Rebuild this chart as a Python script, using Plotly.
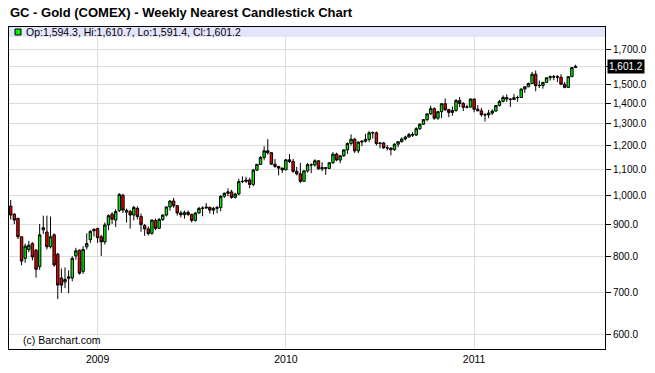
import numpy as np
import pandas as pd
import plotly.graph_objects as go

# ---------------- data ----------------
first_week = "2008-07-21"
opens = [961, 933, 919, 859, 794, 820, 838, 818, 770, 881, 874, 828, 865, 806, 739, 728, 742, 739, 801, 818,
         757, 828, 850, 878, 885, 859, 843, 897, 933, 913, 945, 1000, 940, 942, 930, 953, 925, 895, 884, 870,
         912, 886, 915, 930, 958, 979, 962, 937, 931, 939, 932, 912, 937, 953, 954, 957, 947, 953, 956, 996,
         1007, 1012, 992, 1004, 1051, 1052, 1057, 1040, 1096, 1119, 1148, 1176, 1168, 1120, 1111, 1104, 1097, 1138, 1131, 1091,
         1081, 1052, 1093, 1118, 1117, 1134, 1101, 1106, 1103, 1126, 1162, 1137, 1155, 1180, 1208, 1227, 1176, 1214, 1218, 1226,
         1257, 1256, 1208, 1210, 1189, 1188, 1181, 1205, 1216, 1228, 1237, 1248, 1246, 1275, 1296, 1318, 1346, 1372, 1325, 1357,
         1397, 1367, 1353, 1363, 1413, 1398, 1379, 1380, 1421, 1369, 1361, 1342, 1341, 1350, 1360, 1388, 1409, 1429, 1421, 1419,
         1428, 1429, 1474, 1486, 1504, 1556, 1492, 1493, 1510, 1536, 1542, 1542, 1539, 1500, 1483, 1542, 1594.3]
highs = [983, 936, 920, 860, 838, 846, 842, 822, 900, 928, 928, 925, 870, 810, 765, 768, 760, 800, 825, 820,
         830, 870, 880, 885, 888, 865, 905, 932, 940, 950, 1007, 1005, 952, 948, 962, 960, 935, 900, 892, 915,
         918, 920, 932, 960, 982, 990, 965, 945, 945, 946, 935, 940, 958, 960, 972, 958, 958, 962, 1000, 1010,
         1025, 1020, 1009, 1062, 1071, 1070, 1066, 1101, 1120, 1153, 1196, 1227, 1170, 1141, 1112, 1106, 1140, 1162, 1142, 1109,
         1125, 1094, 1125, 1123, 1140, 1136, 1128, 1107, 1128, 1170, 1168, 1158, 1182, 1212, 1249, 1233, 1217, 1222, 1251, 1264,
         1262, 1262, 1213, 1215, 1201, 1190, 1208, 1218, 1235, 1243, 1256, 1259, 1282, 1300, 1321, 1350, 1387, 1378, 1361, 1398,
         1424, 1371, 1382, 1421, 1432, 1405, 1392, 1424, 1423, 1390, 1376, 1350, 1366, 1368, 1390, 1416, 1440, 1445, 1425, 1448,
         1439, 1477, 1487, 1509, 1569, 1577, 1520, 1513, 1537, 1549, 1552, 1551, 1556, 1512, 1545, 1597, 1610.7]
lows = [915, 900, 852, 774, 781, 812, 788, 740, 761, 868, 820, 823, 770, 684, 700, 712, 699, 730, 790, 748,
        750, 820, 840, 860, 840, 801, 835, 880, 900, 890, 940, 937, 905, 885, 912, 915, 875, 862, 863, 865,
        880, 885, 910, 925, 945, 955, 928, 922, 918, 926, 905, 908, 935, 926, 952, 935, 932, 936, 943, 990,
        996, 987, 988, 1000, 1045, 1046, 1026, 1033, 1092, 1117, 1136, 1160, 1117, 1105, 1075, 1085, 1095, 1125, 1085, 1075,
        1045, 1051, 1086, 1084, 1110, 1097, 1091, 1077, 1100, 1120, 1132, 1124, 1150, 1163, 1200, 1167, 1166, 1196, 1212, 1215,
        1230, 1199, 1187, 1184, 1177, 1157, 1176, 1192, 1212, 1222, 1233, 1237, 1241, 1270, 1294, 1310, 1341, 1317, 1317, 1326,
        1360, 1330, 1337, 1357, 1380, 1360, 1373, 1378, 1354, 1360, 1333, 1309, 1325, 1340, 1357, 1383, 1404, 1406, 1381, 1415,
        1407, 1427, 1453, 1485, 1500, 1462, 1480, 1476, 1507, 1520, 1522, 1512, 1498, 1478, 1480, 1540, 1591.4]
closes = [930, 913, 859, 786, 830, 833, 798, 763, 865, 888, 828, 859, 775, 720, 720, 735, 738, 794, 816, 752,
          820, 838, 876, 883, 856, 843, 897, 928, 916, 942, 1003, 947, 946, 930, 956, 925, 898, 884, 869, 913,
          886, 915, 930, 958, 979, 962, 937, 931, 939, 932, 912, 937, 953, 954, 957, 947, 953, 956, 996, 1007,
          1012, 992, 1004, 1051, 1052, 1057, 1040, 1096, 1119, 1148, 1176, 1168, 1120, 1111, 1104, 1097, 1138, 1131, 1091, 1081,
          1052, 1093, 1118, 1117, 1134, 1101, 1106, 1103, 1126, 1162, 1137, 1155, 1180, 1208, 1227, 1176, 1214, 1218, 1226, 1256,
          1256, 1208, 1210, 1189, 1188, 1181, 1205, 1216, 1228, 1237, 1248, 1246, 1275, 1296, 1318, 1346, 1372, 1325, 1357, 1397,
          1367, 1353, 1363, 1413, 1398, 1379, 1380, 1421, 1369, 1361, 1342, 1341, 1350, 1360, 1388, 1409, 1429, 1421, 1419, 1428,
          1429, 1474, 1486, 1504, 1556, 1492, 1493, 1510, 1536, 1542, 1540, 1539, 1500, 1483, 1542, 1594, 1601.2]

dates = pd.date_range(first_week, periods=len(opens), freq="7D")

y_ticks = [600, 700, 800, 900, 1000, 1100, 1200, 1300, 1400, 1500, 1600, 1700]
y_tick_text = ["" if v == 1600 else f"{v:,.1f}" for v in y_ticks]
year_ticks = ["2009-01-05", "2010-01-04", "2011-01-03"]
year_labels = ["2009", "2010", "2011"]

title_text = "GC - Gold (COMEX) - Weekly Nearest Candlestick Chart"
last_o, last_h, last_l, last_c = opens[-1], highs[-1], lows[-1], closes[-1]
legend_text = f"Op:{last_o:,.1f}, Hi:{last_h:,.1f}, Lo:{last_l:,.1f}, Cl:{last_c:,.1f}"

FONT = "Liberation Sans, Arial, sans-serif"
GREEN = "#00f000"
RED = "#f00000"

fig = go.Figure()
fig.add_trace(go.Candlestick(
    x=dates, open=opens, high=highs, low=lows, close=closes,
    increasing=dict(fillcolor=GREEN, line=dict(color="black", width=1)),
    decreasing=dict(fillcolor=RED, line=dict(color="black", width=1)),
    whiskerwidth=0, showlegend=False, hoverinfo="skip",
))

W, H = 655, 373
ml, mr, mt, mb = 9, 50, 27, 24
ph = H - mt - mb
pw = W - ml - mr

fig.update_layout(
    width=W, height=H,
    margin=dict(l=ml, r=mr, t=mt, b=mb, pad=0, autoexpand=False),
    paper_bgcolor="white", plot_bgcolor="white",
    font=dict(family=FONT, size=10, color="black"),
    boxgap=0.04,
    showlegend=False,
    xaxis=dict(
        type="date",
        range=["2008-07-17 17:00", "2011-09-13"],
        rangeslider=dict(visible=False),
        tickvals=year_ticks, ticktext=year_labels,
        showgrid=True, gridcolor="#dcdcdc", gridwidth=1,
        showline=True, linecolor="black", linewidth=1, mirror=True,
        ticks="", tickfont=dict(family=FONT, size=10.5),
        zeroline=False,
    ),
    yaxis=dict(
        type="log", side="right",
        range=[np.log10(570), np.log10(1849)],
        tickvals=y_ticks, ticktext=y_tick_text,
        showgrid=True, gridcolor="#dcdcdc", gridwidth=1,
        showline=True, linecolor="black", linewidth=1, mirror=True,
        ticks="outside", ticklen=5, tickcolor="black", tickwidth=1,
        tickfont=dict(family=FONT, size=10),
        zeroline=False,
    ),
)

# legend strip at top of plot area
strip_h = 10
fig.add_shape(type="rect", xref="paper", yref="paper",
              x0=0, x1=1, y0=1 - strip_h / ph, y1=1,
              fillcolor="#e4e4fa", line=dict(width=0), layer="above")
# green marker square
fig.add_shape(type="rect", xref="paper", yref="paper",
              x0=6 / pw, x1=12 / pw, y0=1 - 8 / ph, y1=1 - 2 / ph,
              fillcolor=GREEN, line=dict(color="black", width=1), layer="above")
fig.add_annotation(text=legend_text, xref="paper", yref="paper",
                   x=15 / pw, y=1 - 5 / ph, xanchor="left", yanchor="middle",
                   showarrow=False, font=dict(family=FONT, size=10.5, color="black"))

# title
fig.add_annotation(text=f"<b>{title_text}</b>", xref="paper", yref="paper",
                   x=0, y=1, xanchor="left", yanchor="bottom", xshift=-1, yshift=5,
                   showarrow=False, font=dict(family=FONT, size=13, color="black"))

# copyright
fig.add_annotation(text="(c) Barchart.com", xref="paper", yref="paper",
                   x=12 / pw, y=9 / ph, xanchor="left", yanchor="middle",
                   showarrow=False, font=dict(family=FONT, size=10.5, color="black"))

# last price label
fig.add_annotation(text=f"{last_c:,.1f}", xref="paper", yref="y",
                   x=1, y=np.log10(last_c), xanchor="left", yanchor="middle", xshift=2,
                   showarrow=False, bgcolor="black", borderpad=1,
                   font=dict(family=FONT, size=10, color="white"))

fig.write_html("out.html", config={"displayModeBar": False},
               post_script="document.body.style.margin='0';")
